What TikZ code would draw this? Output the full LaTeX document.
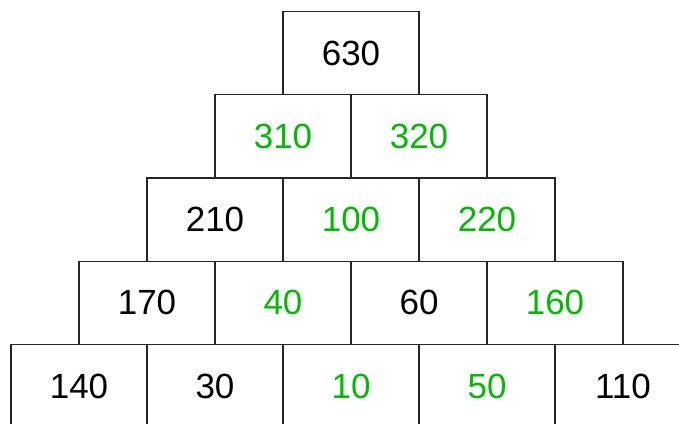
\documentclass[tikz,border=0pt]{standalone}
\usepackage{fontspec}
\setmainfont{Liberation Sans}
\definecolor{grn}{RGB}{0,187,0}
\begin{document}
\begin{tikzpicture}[x=1pt,y=-1pt,
  cell/.style={draw=black!85,line width=1.3pt,rectangle,minimum width=136pt,minimum height=83.2pt,inner sep=0pt,font=\fontsize{35}{42}\selectfont,text=black},
  gcell/.style={cell,text=grn}]
\useasboundingbox (0,0) rectangle (679,423);
\clip (0,0) rectangle (679,423);
% row 1
\node[cell] (a1) at (351,53.1) {630};
% row 2
\node[gcell] (b1) at (283,136.3) {310};
\node[gcell] (b2) at (419,136.3) {320};
% row 3
\node[cell]  (c1) at (215,219.6) {210};
\node[gcell] (c2) at (351,219.6) {100};
\node[gcell] (c3) at (487,219.6) {220};
% row 4
\node[cell]  (d1) at (147,302.9) {170};
\node[gcell] (d2) at (283,302.9) {40};
\node[cell]  (d3) at (419,302.9) {60};
\node[gcell] (d4) at (555,302.9) {160};
% row 5
\node[cell]  (e1) at (79,386.1) {140};
\node[cell]  (e2) at (215,386.1) {30};
\node[gcell] (e3) at (351,386.1) {10};
\node[gcell] (e4) at (487,386.1) {50};
\node[cell]  (e5) at (623,386.1) {110};
\end{tikzpicture}
\end{document}
